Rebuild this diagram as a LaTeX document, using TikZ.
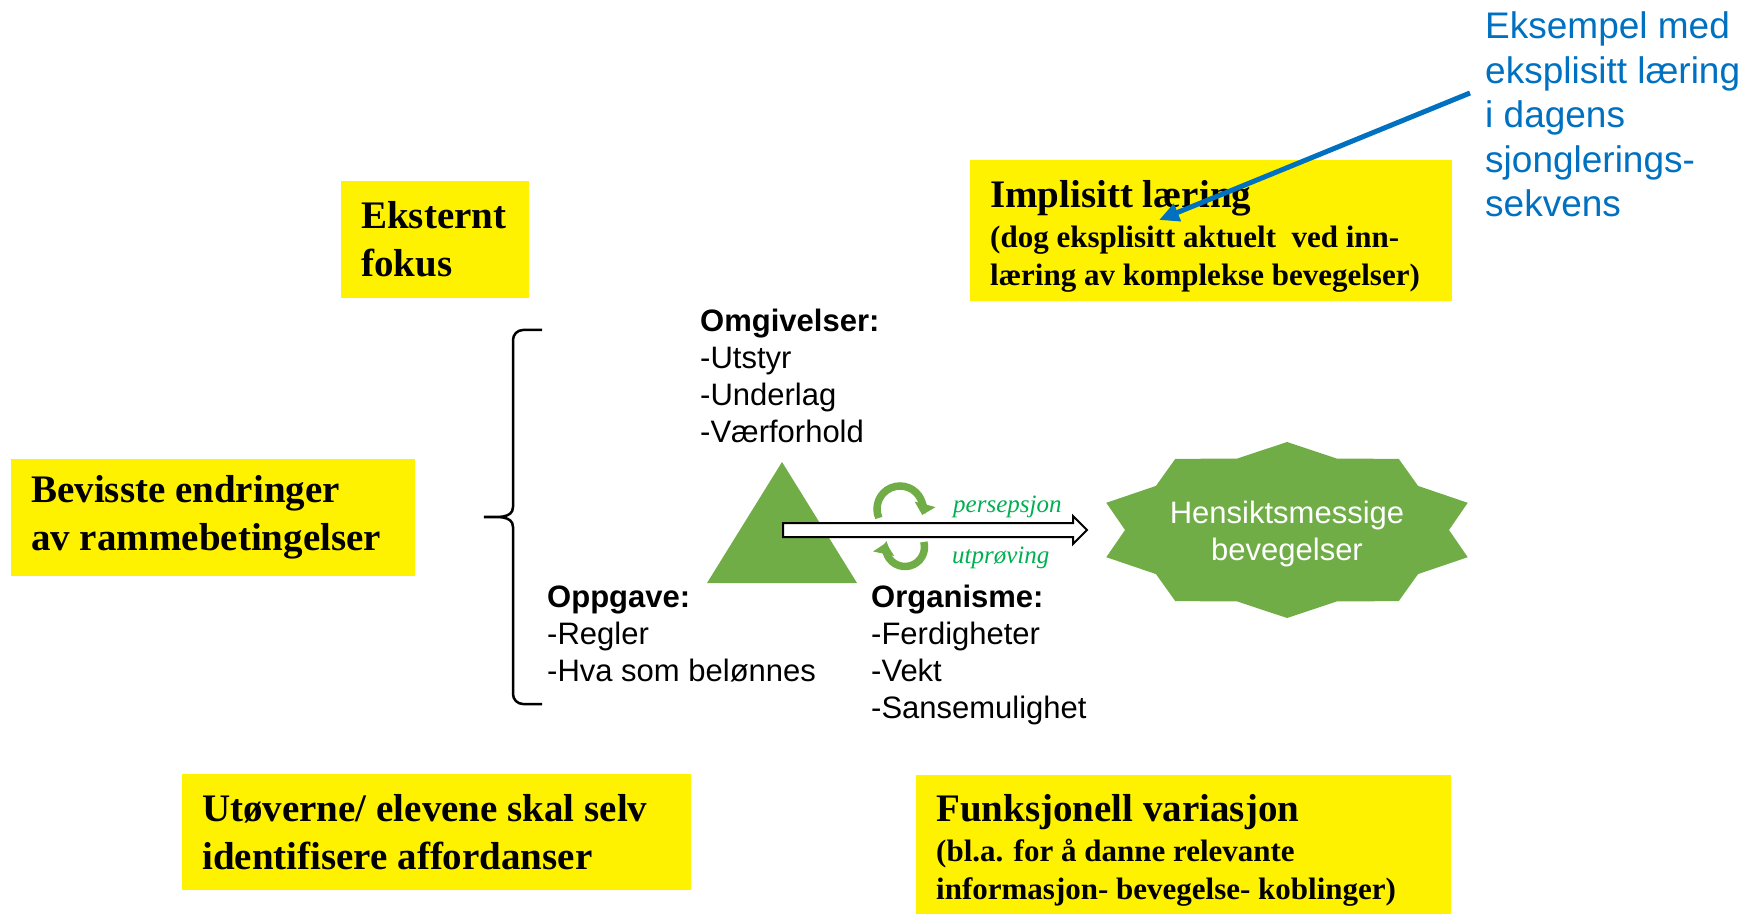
\documentclass[tikz,border=0pt]{standalone}
\usepackage{fontspec}
\setmainfont{Liberation Serif}
\setsansfont{Liberation Sans}
\usepackage{xcolor}
\usepackage{tikz}
\usetikzlibrary{arrows.meta}

\definecolor{gronn}{HTML}{70AD47}
\definecolor{lysgronn}{HTML}{00B050}
\definecolor{blaa}{HTML}{0070C0}

\begin{document}
\begin{tikzpicture}[x=1pt,y=1pt,
            gulboks/.style={fill=yellow, anchor=north west, inner xsep=20pt, inner ysep=0pt, align=flush left,
                font={\bfseries\fontsize{39}{48}\selectfont}},
            blandboks/.style={gulboks, font={\bfseries\fontsize{31}{38}\selectfont}},
            liste/.style={anchor=base west, inner sep=0pt, text width=300pt, align=flush left,
                font={\sffamily\fontsize{31}{37}\selectfont}},
            runde/.style={gronn, line width=7.5pt, -{Triangle[width=21pt,length=11pt]}},
            kursiv/.style={anchor=base west, inner sep=0pt, text=lysgronn,
                font={\itshape\fontsize{25}{30}\selectfont}}]
        \useasboundingbox (0,0) rectangle (1744,914);

        \node[gulboks, text width=148pt, minimum height=117pt] (eksternt) at (341,733) {Eksternt\\fokus};
        \node[blandboks, text width=442pt, minimum height=141pt] (implisitt) at (970,754)
            {\rule{0pt}{38pt}{\fontsize{39}{48}\selectfont Implisitt læring}\\[2pt]
            (dog eksplisitt aktuelt\ \ ved inn-\\læring av komplekse bevegelser)};
        \node[gulboks, text width=364pt, minimum height=117pt] (bevisste) at (11,455) {Bevisste endringer\\av rammebetingelser};
        \node[gulboks, text width=469pt, minimum height=116pt] (utoverne) at (182,140) {Utøverne/ elevene skal selv\\identifisere affordanser};
        \node[blandboks, text width=495pt, minimum height=139pt] (funksjonell) at (916,139)
            {\rule{0pt}{38pt}{\fontsize{39}{48}\selectfont Funksjonell variasjon}\\[2pt]
            (bl.a. for å danne relevante\\informasjon- bevegelse- koblinger)};

        \draw[line width=2.5pt] (542,584) -- (523,584) to[out=180,in=90] (513,574) -- (513,407) to[out=-90,in=0] (484,397)
            to[out=0,in=90] (513,387) -- (513,220) to[out=-90,in=180] (523,210) -- (542,210);

        \node[liste] (omgivelser) at (700,582) {\textbf{Omgivelser:}\\-Utstyr\\-Underlag\\-Værforhold};
        \node[liste] (oppgave) at (547,307) {\textbf{Oppgave:}\\-Regler\\-Hva som belønnes};
        \node[liste] (organisme) at (871,307) {\textbf{Organisme:}\\-Ferdigheter\\-Vekt\\-Sansemulighet};

        \fill[gronn] (707,331) -- (782,452) -- (857,331) -- cycle;

        \coordinate (pilstart) at (783,384);
        \coordinate (pilspiss) at (1087,384);
        \filldraw[fill=white, draw=black, line width=2pt] (pilstart) ++(0,7) -- ++(290,0) -- ++(0,7) -- (pilspiss)
            -- ++(-14,-14) -- ++(0,7) -- ++(-290,0) -- cycle;

        \draw[runde] (900,405) ++(203:23) arc[start angle=203, end angle=-15, radius=23];
        \draw[runde] (905,367) ++(15:19.5) arc[start angle=15, end angle=-192, radius=19.5];
        \node[kursiv] (persepsjon) at (953,402) {persepsjon};
        \node[kursiv] (utproving) at (952,351) {utprøving};

        \coordinate (stjerne) at (1287,384);
        \fill[gronn] ([shift={(90:190 and 88)}]stjerne) \foreach \a in {90,126,...,414} {
            -- ([shift={(\a+18:162 and 75)}]stjerne) -- ([shift={(\a+36:190 and 88)}]stjerne) } -- cycle;
        \node[liste, anchor=base, text=white, align=center, text width=320pt] (hensikt) at (1287,391) {Hensiktsmessige\\bevegelser};

        \node[liste, text=blaa, font={\sffamily\fontsize{37}{44.5}\selectfont}] (eksempel) at (1485,875)
            {Eksempel med\\eksplisitt læring\\i dagens\\sjonglerings-\\sekvens};
        \coordinate (blastart) at (1470,821);
        \coordinate (blaspiss) at (1159,694);
        \draw[blaa, line width=5pt, -{Triangle[width=18pt,length=20pt]}] (blastart) -- (blaspiss);
    \end{tikzpicture}
\end{document}
